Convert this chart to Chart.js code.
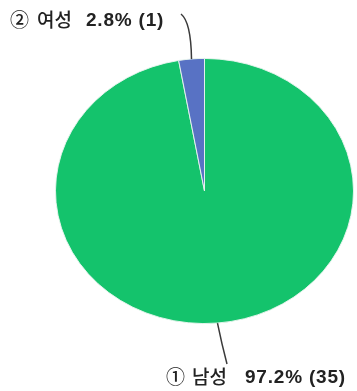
<!DOCTYPE html>
<html><head><meta charset="utf-8">
<script src="https://cdn.jsdelivr.net/npm/chart.js@4"></script>
<style>html,body{margin:0;padding:0;background:#fff}#wrap{width:357px;height:391px}</style>
</head><body><div id="wrap"><canvas id="c" width="357" height="391"></canvas></div>
<script>
const categories = ['남성', '여성'];
const markers = ['①', '②'];
const counts = [35, 1];
const percents = ['97.2%', '2.8%'];
const colors = ['#14c36c', '#5872c4'];

const SY = 133 / 149.5;
const KFONT = '"Noto Sans CJK KR", "Noto Sans", sans-serif';
const LFONT = '"Liberation Sans", Arial, sans-serif';

const ellipse = {
  id: 'ellipse',
  beforeDatasetsDraw(chart) {
    const a = chart.getDatasetMeta(0).data[0];
    const ctx = chart.ctx;
    ctx.save();
    ctx.translate(0, a.y);
    ctx.scale(1, SY);
    ctx.translate(0, -a.y);
  },
  afterDatasetsDraw(chart) { chart.ctx.restore(); }
};

const labels = {
  id: 'labels',
  afterDraw(chart) {
    const ctx = chart.ctx;
    const meta = chart.getDatasetMeta(0);
    // label layout: [male -> bottom, female -> top]
    const spots = [
      {tx: 167, ty: 377, kx: 25, vx: 78, ex: 227, ey: 364, cx: 222, cy: 345},
      {tx: 11, ty: 20, kx: 26, vx: 75, ex: 181, ey: 14, cx: 191, cy: 22}
    ];
    meta.data.forEach((arc, i) => {
      const mid = (arc.startAngle + arc.endAngle) / 2;
      const px = arc.x + arc.outerRadius * Math.cos(mid);
      const py = arc.y + arc.outerRadius * Math.sin(mid) * SY;
      const s = spots[i];
      ctx.save();
      ctx.strokeStyle = '#3a3a3a';
      ctx.lineWidth = 1.5;
      ctx.beginPath();
      ctx.moveTo(px, py);
      ctx.quadraticCurveTo(s.cx, s.cy, s.ex, s.ey);
      ctx.stroke();
      ctx.textBaseline = 'middle';
      ctx.fillStyle = '#222';
      ctx.font = '500 19px ' + KFONT;
      ctx.fillText(markers[i], s.tx - 1, s.ty);
      ctx.font = '500 19px ' + KFONT;
      ctx.fillText(categories[i], s.tx + s.kx, s.ty);
      ctx.font = 'bold 19px ' + LFONT;
      if ('letterSpacing' in ctx) ctx.letterSpacing = '0.8px';
      ctx.fillText(percents[i] + ' (' + counts[i] + ')', s.tx + s.vx, s.ty + 1);
      ctx.restore();
    });
  }
};

new Chart(document.getElementById('c'), {
  type: 'pie',
  data: {
    labels: categories,
    datasets: [{ data: counts, backgroundColor: colors, borderColor: '#e8f4ee', borderWidth: 1 }]
  },
  options: {
    responsive: false,
    animation: false,
    layout: { padding: { left: 55, right: 3, top: 41.5, bottom: 50.5 } },
    plugins: { legend: { display: false }, tooltip: { enabled: false } }
  },
  plugins: [ellipse, labels]
});
</script></body></html>
